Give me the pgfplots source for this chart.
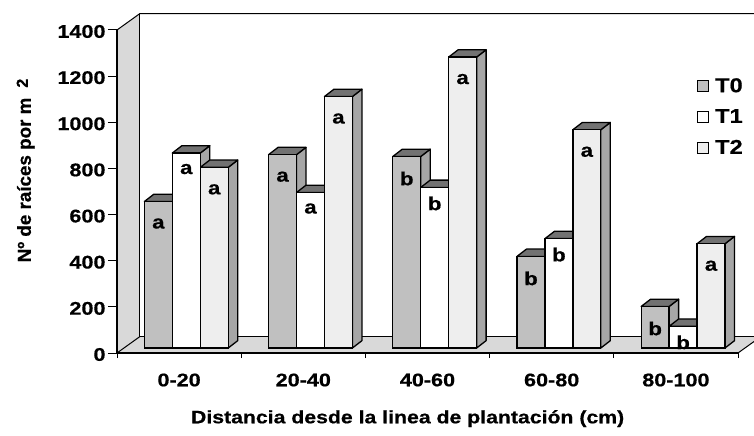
\documentclass[border=0pt]{standalone}
\usepackage{fontspec}
\setmainfont{Liberation Sans}[FakeStretch=1.18, BoldFeatures={FakeBold=0.6}]
\newfontfamily\ylfont{Liberation Sans}[BoldFeatures={FakeBold=0.6}]
\usepackage{pgfplots}
\usepackage{pgfplotstable}
\pgfplotsset{compat=1.18}
\definecolor{t0c}{HTML}{C0C0C0}
\definecolor{t1c}{HTML}{FFFFFF}
\definecolor{t2c}{HTML}{EEEEEE}
\definecolor{sidec}{HTML}{A6A6A6}
\definecolor{topc}{HTML}{727272}
\definecolor{wallc}{HTML}{D9D9D9}
\newcommand\cf{\bfseries\fontsize{18.3bp}{22bp}\selectfont}
\newcommand\xf{\bfseries\fontsize{18bp}{22bp}\selectfont}
\newcommand\lf{\bfseries\fontsize{20bp}{24bp}\selectfont}
\newcommand\barf{\bfseries\fontsize{18.8bp}{22bp}\selectfont}

% category, T0, T1, T2 values and significance letters
\pgfplotstableread{
x T0  T1  T2   L0 L1 L2
0 635 845 783  a  a  a
1 838 674 1090 a  a  a
2 830 696 1261 b  b  a
3 397 474 946  b  b  a
4 180 94  452  b  b  a
}\rootdata

% side and top faces of a 3-D bar: #1 = x centre of front face, #2 = value
\newcommand\sidetop[2]{%
  \pgfmathsetmacro\xl{#1-0.1125}%
  \pgfmathsetmacro\xr{#1+0.1125}%
  \pgfmathsetmacro\xlb{#1-0.1125+0.0764}%
  \pgfmathsetmacro\xrb{#1+0.1125+0.0764}%
  \pgfmathsetmacro\vt{#2+31.7}%
  \addplot[fill=sidec, draw=black, line width=1.3bp, line join=round, forget plot]
    coordinates {(\xr,0) (\xrb,31.7) (\xrb,\vt) (\xr,#2)} -- cycle;
  \addplot[fill=topc, draw=black, line width=1.3bp, line join=round, forget plot]
    coordinates {(\xl,#2) (\xr,#2) (\xrb,\vt) (\xlb,\vt)} -- cycle;
}

\begin{document}
\begin{tikzpicture}
\useasboundingbox (0,0) rectangle (754bp,436bp);
\pgfplotsset{every axis plot/.append style={mark=none}}
% ---------- front plane: walls, floor, ticks, labels ----------
\begin{axis}[
  at={(117bp,83bp)}, anchor=south west,
  scale only axis, width=621bp, height=323bp,
  xmin=-0.5, xmax=4.5, ymin=0, ymax=1400,
  clip=false, axis on top,
  axis x line*=bottom, axis y line*=left,
  axis line style={line width=1.1bp, black, -},
  ytick={0,200,...,1400},
  xtick={0,1,2,3,4},
  xticklabels={0-20,20-40,40-60,60-80,80-100},
  minor xtick={-0.5,0.5,1.5,2.5,3.5,4.5},
  tick align=outside,
  major tick length=9bp, minor tick length=5bp,
  every major x tick/.append style={draw=none},
  tick style={line width=1bp, black},
  tick label style={font=\cf},
  /pgf/number format/assume math mode=true,
  /pgf/number format/1000 sep={},
  yticklabel style={anchor=east, xshift=1bp, yshift=-1.5bp},
  xticklabel style={yshift=-8bp},
  xlabel={Distancia desde la linea de plantación (cm)},
  xlabel style={font=\xf, at={(axis description cs:0.468,-0.203)}, anchor=center},
  ylabel={N\textordmasculine{} de raíces por m\hspace{10bp}\raisebox{3bp}{\fontsize{16bp}{16bp}\selectfont 2}},
  ylabel style={font=\ylfont\bfseries\fontsize{18.8bp}{22bp}\selectfont, at={(axis description cs:-0.147,0.565)}, anchor=center},
]
\addplot[fill=wallc, draw=none, forget plot] coordinates {(-0.5,0) (-0.315,71.5) (-0.315,1471.5) (-0.5,1400)} -- cycle;
\addplot[fill=wallc, draw=none, forget plot] coordinates {(-0.5,0) (4.5,0) (4.629,49.8) (4.629,71.5) (-0.315,71.5)} -- cycle;
\addplot[black, line width=1bp] coordinates {(-0.5,1400) (-0.315,1471.5) (4.629,1471.5)};
\addplot[black, line width=1bp] coordinates {(-0.315,1471.5) (-0.315,71.5) (4.629,71.5)};
\addplot[black, line width=1bp] coordinates {(-0.5,0) (-0.315,71.5)};
\addplot[black, line width=1bp] coordinates {(4.5,0) (4.629,49.8)};
\end{axis}
% ---------- bar plane ----------
\begin{axis}[
  at={(124.2bp,88bp)}, anchor=south west,
  scale only axis, width=621bp, height=323bp,
  xmin=-0.5, xmax=4.5, ymin=0, ymax=1400,
  clip=false, hide axis,
  legend cell align=left,
  legend style={draw=none, fill=none, at={(rel axis cs:0.9225,0.842)}, anchor=north west,
    row sep=11.5bp, font=\lf, inner sep=0pt,
    /tikz/every odd column/.append style={column sep=4bp}},
]
% side and top faces (values as in the table)
\sidetop{-0.225}{635}\sidetop{0}{845}\sidetop{0.225}{783}
\sidetop{0.775}{838}\sidetop{1}{674}\sidetop{1.225}{1090}
\sidetop{1.775}{830}\sidetop{2}{696}\sidetop{2.225}{1261}
\sidetop{2.775}{397}\sidetop{3}{474}\sidetop{3.225}{946}
\sidetop{3.775}{180}\sidetop{4}{94}\sidetop{4.225}{452}
% front faces
\addplot[ybar, bar width=0.225, bar shift=0, fill=t0c, draw=black, line width=1.3bp,
  nodes near coords, point meta=explicit symbolic,
  every node near coord/.append style={font=\barf, anchor=center, yshift=-22bp},
  legend image code/.code={\draw[fill=t0c, draw=black, line width=0.9bp] (0bp,-5.5bp) rectangle (11bp,5.5bp);}]
  table[x expr=\thisrow{x}-0.225, y=T0, meta=L0] {\rootdata};
\addlegendentry{T0}
\addplot[ybar, bar width=0.225, bar shift=0, fill=t1c, draw=black, line width=1.3bp,
  nodes near coords, point meta=explicit symbolic,
  every node near coord/.append style={font=\barf, anchor=center, yshift=-16bp},
  legend image code/.code={\draw[fill=t1c, draw=black, line width=0.9bp] (0bp,-5.5bp) rectangle (11bp,5.5bp);}]
  table[x=x, y=T1, meta=L1] {\rootdata};
\addlegendentry{T1}
\addplot[ybar, bar width=0.225, bar shift=0, fill=t2c, draw=black, line width=1.3bp,
  nodes near coords, point meta=explicit symbolic,
  every node near coord/.append style={font=\barf, anchor=center, yshift=-22bp},
  legend image code/.code={\draw[fill=t2c, draw=black, line width=0.9bp] (0bp,-5.5bp) rectangle (11bp,5.5bp);}]
  table[x expr=\thisrow{x}+0.225, y=T2, meta=L2] {\rootdata};
\addlegendentry{T2}
\end{axis}
\end{tikzpicture}
\end{document}
